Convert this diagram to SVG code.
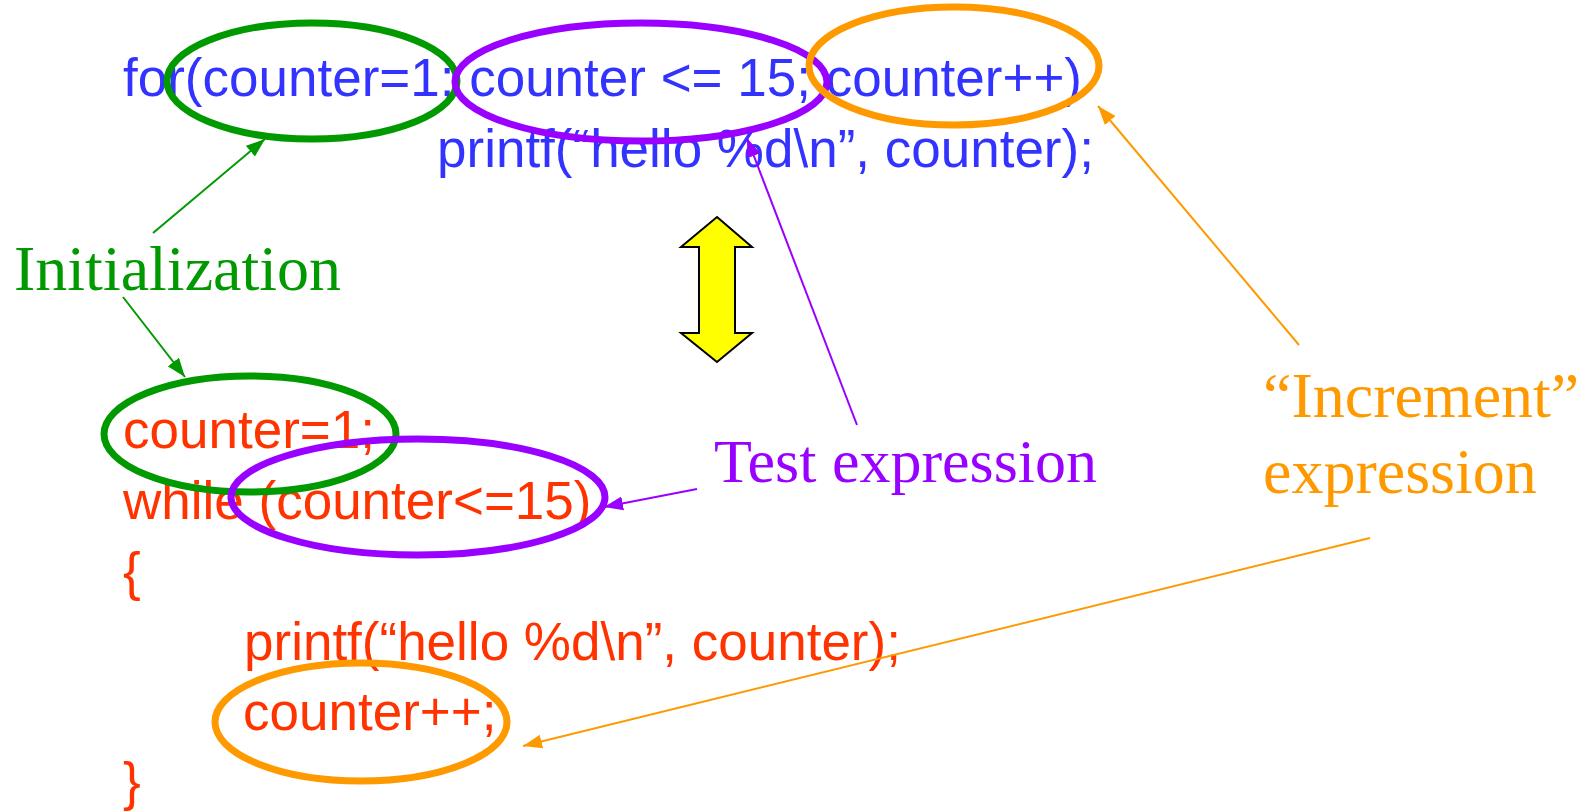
<svg xmlns="http://www.w3.org/2000/svg" width="1583" height="812" viewBox="0 0 1583 812">
<style>
.code{font-family:"Liberation Sans",Arial,sans-serif;font-size:53px}
.blue{fill:#3333FF}
.red{fill:#FF3300}
.lbl{font-family:"Liberation Serif","Times New Roman",serif;font-size:64px}
.ell{fill:none;stroke-width:7}
.ln{fill:none;stroke-width:2}
</style>
<defs>
<marker id="ag" markerUnits="userSpaceOnUse" markerWidth="22" markerHeight="16" refX="19" refY="8" orient="auto"><path d="M0,1 L19,8 L0,15 Z" fill="#009900"/></marker>
<marker id="ap" markerUnits="userSpaceOnUse" markerWidth="22" markerHeight="16" refX="19" refY="8" orient="auto"><path d="M0,1 L19,8 L0,15 Z" fill="#9900FF"/></marker>
<marker id="ao" markerUnits="userSpaceOnUse" markerWidth="22" markerHeight="16" refX="19" refY="8" orient="auto"><path d="M0,1 L19,8 L0,15 Z" fill="#FF9900"/></marker>
</defs>
<rect width="1583" height="812" fill="#FFFFFF"/>
<g id="for-code">
<text class="code blue" x="123" y="96">for(counter=1; counter &lt;= 15; counter++)</text>
<text class="code blue" x="437" y="167">printf(“hello %d\n”, counter);</text>
</g>
<g id="while-code">
<text class="code red" x="123" y="448">counter=1;</text>
<text class="code red" x="123" y="519">while (counter&lt;=15)</text>
<text class="code red" x="123" y="590">{</text>
<text class="code red" x="244" y="660">printf(“hello %d\n”, counter);</text>
<text class="code red" x="243" y="730">counter++;</text>
<text class="code red" x="123" y="800">}</text>
</g>
<g id="ellipses">
<ellipse class="ell" cx="312" cy="81" rx="145" ry="58" stroke="#009900"/>
<ellipse class="ell" cx="641" cy="82" rx="186" ry="59" stroke="#9900FF"/>
<ellipse class="ell" cx="954" cy="66" rx="145" ry="59" stroke="#FF9900"/>
<ellipse class="ell" cx="250" cy="434" rx="146" ry="58" stroke="#009900"/>
<ellipse class="ell" cx="418" cy="497" rx="187" ry="58" stroke="#9900FF"/>
<ellipse class="ell" cx="361" cy="722" rx="146" ry="59" stroke="#FF9900"/>
</g>
<g id="double-arrow">
<path d="M717,217 L752,247 L735,247 L735,333 L752,333 L717,362 L681,333 L699,333 L699,247 L681,247 Z" fill="#FFFF00" stroke="#000000" stroke-width="2"/>
</g>
<g id="label-init"><text class="lbl" x="14" y="290" fill="#009900">Initialization</text></g>
<g id="label-test"><text class="lbl" x="714" y="482" fill="#9900FF" style="font-size:62px">Test expression</text></g>
<g id="label-incr">
<text class="lbl" x="1263" y="417" fill="#FF9900">“Increment”</text>
<text class="lbl" x="1263" y="493" fill="#FF9900">expression</text>
</g>
<g id="connectors">
<line class="ln" x1="153" y1="233" x2="265" y2="139" stroke="#009900" marker-end="url(#ag)"/>
<line class="ln" x1="123" y1="297" x2="185" y2="377" stroke="#009900" marker-end="url(#ag)"/>
<line class="ln" x1="857" y1="425" x2="747" y2="138" stroke="#9900FF" marker-end="url(#ap)"/>
<line class="ln" x1="697" y1="489" x2="604" y2="507" stroke="#9900FF" marker-end="url(#ap)"/>
<line class="ln" x1="1299" y1="345" x2="1098" y2="106" stroke="#FF9900" marker-end="url(#ao)"/>
<line class="ln" x1="1370" y1="538" x2="523" y2="746" stroke="#FF9900" marker-end="url(#ao)"/>
</g>
</svg>
